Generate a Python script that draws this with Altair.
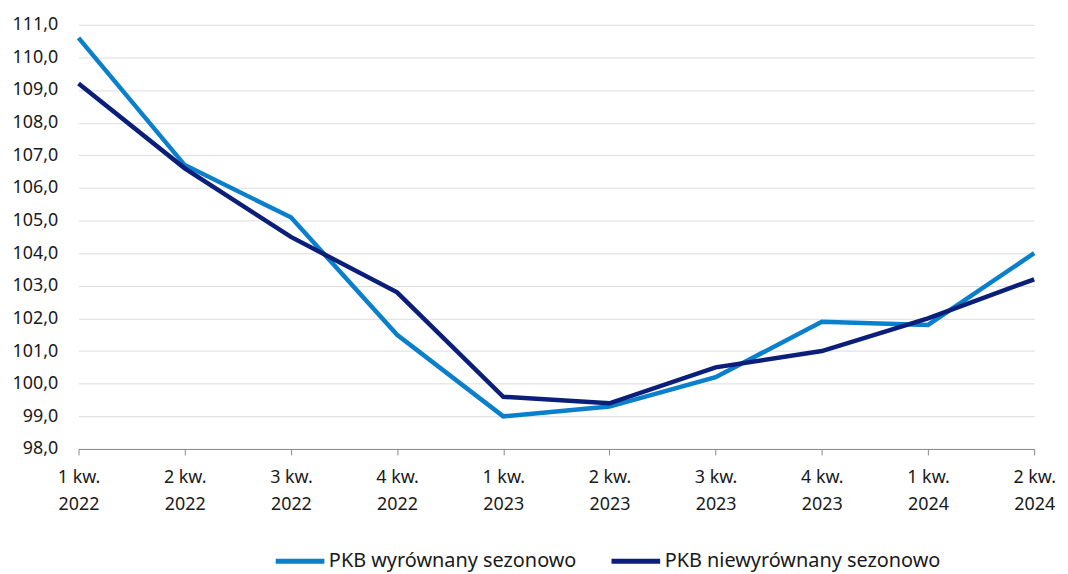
import altair as alt
import pandas as pd

quarters = ["1 kw.|2022", "2 kw.|2022", "3 kw.|2022", "4 kw.|2022",
            "1 kw.|2023", "2 kw.|2023", "3 kw.|2023", "4 kw.|2023",
            "1 kw.|2024", "2 kw.|2024"]
sa = [110.6, 106.7, 105.1, 101.5, 99.0, 99.3, 100.2, 101.9, 101.8, 104.0]
nsa = [109.2, 106.6, 104.5, 102.8, 99.6, 99.4, 100.5, 101.0, 102.0, 103.2]
series = ["PKB wyrównany sezonowo", "PKB niewyrównany sezonowo"]
colors = ["#0a7fcb", "#0b1f7a"]

rows = []
for i, q in enumerate(quarters):
    rows.append({"q": q, "v": sa[i], "s": series[0]})
    rows.append({"q": q, "v": nsa[i], "s": series[1]})
df = pd.DataFrame(rows)

font = "Noto Sans"

chart = alt.Chart(df).mark_line(strokeWidth=4.5).encode(
    x=alt.X("q:N", sort=quarters, title=None,
            scale=alt.Scale(type="point", padding=0),
            axis=alt.Axis(labelAngle=0, labelExpr="split(datum.label, '|')",
                          domainColor="#888888", tickColor="#888888", tickSize=6,
                          labelPadding=14, labelFontSize=18, labelColor="#1a1a1a",
                          labelFont=font, grid=False, labelLineHeight=27)),
    y=alt.Y("v:Q", title=None,
            scale=alt.Scale(domain=[98, 111], nice=False, zero=False),
            axis=alt.Axis(values=list(range(98, 112)), format=".1f",
                          labelExpr="replace(datum.label, '.', ',')",
                          domain=False, ticks=False, gridColor="#dcdcdc",
                          labelFontSize=18, labelColor="#1a1a1a", labelFont=font,
                          labelPadding=21)),
    color=alt.Color("s:N", sort=series,
                    scale=alt.Scale(domain=series, range=colors),
                    legend=alt.Legend(title=None, orient="none", direction="horizontal",
                                      legendX=196, legendY=513,
                                      symbolType="stroke", symbolStrokeWidth=5,
                                      symbolSize=2400, labelFontSize=20,
                                      labelFont=font, labelColor="#1a1a1a",
                                      labelLimit=500,
                                      columnPadding=24, labelOffset=2)),
).properties(
    width=962, height=427,
    autosize=alt.AutoSizeParams(type="none"),
    padding={"left": 71, "top": 15, "right": 26, "bottom": 124},
).configure_view(stroke=None)

chart.save("out.html", embed_options={"renderer": "svg", "actions": False})
